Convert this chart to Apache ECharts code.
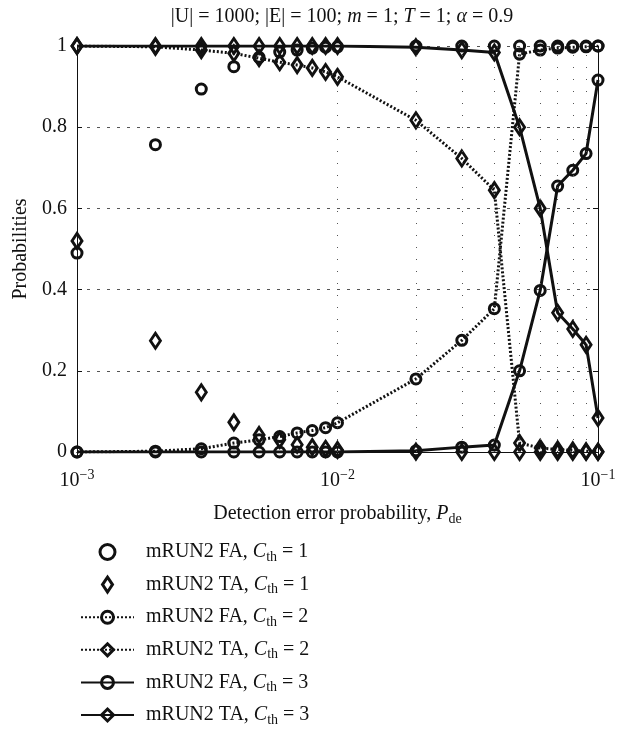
<!DOCTYPE html>
<html><head><meta charset="utf-8">
<script src="https://cdn.jsdelivr.net/npm/echarts@6/dist/echarts.min.js"></script>
<style>html,body{margin:0;padding:0;background:#fff}#c{width:629px;height:731px}</style>
</head><body><div id="c"></div>
<script>
const pde = [0.001,0.002,0.003,0.004,0.005,0.006,0.007,0.008,0.009,0.01,0.02,0.03,0.04,0.05,0.06,0.07,0.08,0.09,0.1];
const faC1 = [0.49,0.757,0.894,0.949,0.972,0.985,0.99,0.995,0.997,0.998,1,1,1,1,1,1,1,1,1];
const taC1 = [0.52,0.274,0.147,0.073,0.042,0.03,0.018,0.012,0.008,0.005,0.001,0,0,0,0,0,0,0,0];
const faC2 = [0,0.002,0.008,0.022,0.03,0.038,0.047,0.053,0.06,0.072,0.18,0.275,0.353,0.98,0.99,0.995,0.997,0.998,1];
const taC2 = [1,0.998,0.99,0.982,0.97,0.96,0.953,0.946,0.936,0.924,0.817,0.723,0.645,0.022,0.01,0.006,0.004,0.002,0.001];
const faC3 = [0,0,0,0,0,0,0,0,0,0,0.003,0.012,0.017,0.2,0.398,0.655,0.694,0.735,0.916];
const taC3 = [1,1,1,1,1,1,1,1,1,1,0.997,0.99,0.984,0.8,0.6,0.343,0.303,0.264,0.084];
const gridX = [0.002,0.003,0.004,0.005,0.006,0.007,0.008,0.009,0.01,0.02,0.03,0.04,0.05,0.06,0.07,0.08,0.09];
const names = ['mRUN2 FA, Cth = 1','mRUN2 TA, Cth = 1','mRUN2 FA, Cth = 2','mRUN2 TA, Cth = 2','mRUN2 FA, Cth = 3','mRUN2 TA, Cth = 3'];

const FONT = "'Liberation Serif','Times New Roman',serif";
const INK = '#111';
const pts = arr => pde.map((x, i) => [x, arr[i]]);
const hollow = {color: 'rgba(0,0,0,0)', borderColor: INK, borderWidth: 3, opacity: 1};
const circleSize = 10, diamondSize = [10, 15];
const DIAMOND_ICON = 'path://M5,0L10,7.5L5,15L0,7.5Z';

function scatter(name, arr, sym) {
  return {name, type: 'scatter', data: pts(arr), symbol: sym,
    symbolSize: sym === 'circle' ? circleSize : diamondSize, itemStyle: hollow, z: 3};
}
function line(name, arr, sym, dashed) {
  return {name, type: 'line', data: pts(arr), symbol: sym, showSymbol: true,
    symbolSize: sym === 'circle' ? circleSize : diamondSize,
    lineStyle: {color: INK, width: 3, type: dashed ? [2, 2] : 'solid'},
    itemStyle: hollow, z: 3};
}

const series = [
  scatter(names[0], faC1, 'circle'),
  scatter(names[1], taC1, 'diamond'),
  line(names[2], faC2, 'circle', true),
  line(names[3], taC2, 'diamond', true),
  line(names[4], faC3, 'circle', false),
  line(names[5], taC3, 'diamond', false)
];
series[0].markLine = {silent: true, symbol: ['none', 'none'], animation: false,
  label: {show: false}, emphasis: {disabled: true},
  lineStyle: {type: [1, 11], color: '#555', width: 1},
  data: gridX.map(v => ({xAxis: v}))};

const chart = echarts.init(document.getElementById('c'));
chart.setOption({
  animation: false,
  backgroundColor: '#fff',
  title: {
    text: '|U| = 1000; |E| = 100; {i|m} = 1; {i|T} = 1; {i|α} = 0.9',
    left: 337, top: 2, textAlign: 'center',
    textStyle: {fontFamily: FONT, fontSize: 20, fontWeight: 'normal', color: INK,
      rich: {i: {fontFamily: FONT, fontSize: 20, fontStyle: 'italic', color: INK}}}
  },
  grid: {left: 77, right: 31, top: 46, bottom: 279},
  xAxis: [{
    type: 'log', logBase: 10, min: 0.001, max: 0.1,
    axisLine: {show: true, lineStyle: {color: INK, width: 1}},
    axisTick: {show: true, inside: true, length: 5, lineStyle: {color: INK}},
    splitLine: {show: false},
    axisLabel: {margin: 16, showMinLabel: true, showMaxLabel: true, color: INK,
      formatter: v => '{b|10}{s|\u2212' + Math.round(-Math.log10(v)) + '}',
      rich: {b: {fontFamily: FONT, fontSize: 20, color: INK},
             s: {fontFamily: FONT, fontSize: 14, color: INK, padding: [0, 0, 12, 0]}}},
    name: 'Detection error probability, {i|P}{s|de}', nameLocation: 'middle', nameGap: 50,
    nameTextStyle: {fontFamily: FONT, fontSize: 20, color: INK,
      rich: {i: {fontFamily: FONT, fontSize: 20, fontStyle: 'italic', color: INK},
             s: {fontFamily: FONT, fontSize: 14, color: INK, padding: [10, 0, 0, 0]}}}
  }, {
    type: 'log', logBase: 10, min: 0.001, max: 0.1, position: 'top',
    axisLine: {show: true, lineStyle: {color: INK, width: 1}},
    axisTick: {show: true, inside: true, length: 5, lineStyle: {color: INK}},
    axisLabel: {show: false}, splitLine: {show: false}
  }],
  yAxis: [{
    type: 'value', min: 0, max: 1, interval: 0.2,
    axisLine: {show: true, lineStyle: {color: INK, width: 1}},
    axisTick: {show: true, inside: true, length: 5, lineStyle: {color: INK}},
    splitLine: {show: true, lineStyle: {type: [3, 7], color: '#555', width: 1}},
    axisLabel: {fontFamily: FONT, fontSize: 20, color: INK, margin: 10},
    name: 'Probabilities', nameLocation: 'middle', nameGap: 38,
    nameTextStyle: {fontFamily: FONT, fontSize: 20, color: INK}
  }, {
    type: 'value', min: 0, max: 1, interval: 0.2, position: 'right',
    axisLine: {show: true, lineStyle: {color: INK, width: 1}},
    axisTick: {show: true, inside: true, length: 5, lineStyle: {color: INK}},
    axisLabel: {show: false}, splitLine: {show: false}
  }],
  legend: {
    orient: 'vertical', left: 80, top: 542, padding: 0,
    itemWidth: 53, itemHeight: 15, itemGap: 10.6, symbolKeepAspect: true,
    data: names.map((n, i) => i === 1 ? {name: n, icon: DIAMOND_ICON} : n),
    itemStyle: {borderWidth: 3},
    formatter: n => n.replace('Cth', '{i|C}{s|th}'),
    textStyle: {fontFamily: FONT, fontSize: 20, color: INK, padding: [0, 0, 0, 7],
      rich: {i: {fontFamily: FONT, fontSize: 20, fontStyle: 'italic', color: INK},
             s: {fontFamily: FONT, fontSize: 14, color: INK, padding: [10, 0, 0, 0]}}}
  },
  series
});
</script></body></html>
